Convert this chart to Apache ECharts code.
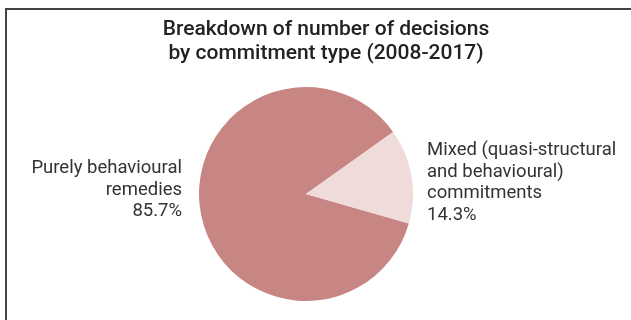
<!DOCTYPE html>
<html>
<head>
<meta charset="utf-8">
<script src="https://cdn.jsdelivr.net/npm/echarts@6/dist/echarts.min.js"></script>
<style>
  html, body { margin: 0; padding: 0; background: #fff; }
  #frame {
    position: absolute; left: 5px; top: 8px; width: 640px; height: 330px;
    border-top: 2px solid #444; border-left: 2px solid #444;
  }
  #chart { position: absolute; left: 0; top: 0; width: 631px; height: 320px; }
</style>
</head>
<body>
<div id="frame"></div>
<div id="chart"></div>
<script>
const titleLines = ['Breakdown of number of decisions', 'by commitment type (2008-2017)'];
const categories = ['Purely behavioural\nremedies', 'Mixed (quasi-structural\nand behavioural)\ncommitments'];
const shares = [85.7, 14.3];
const colors = ['#c78684', '#eedbda'];

const chart = echarts.init(document.getElementById('chart'));

const data = categories.map((name, i) => ({
  name: name,
  value: shares[i],
  itemStyle: { color: colors[i] },
  label: i === 0
    ? { align: 'right' }
    : { align: 'left' }
}));

chart.setOption({
  animation: false,
  title: {
    text: titleLines.join('\n'),
    left: 321,
    textAlign: 'center',
    top: 13,
    textStyle: {
      fontFamily: 'Roboto',
      fontSize: 21,
      fontWeight: 500,
      color: '#222',
      lineHeight: 24
    }
  },
  series: [{
    type: 'pie',
    center: [306, 194],
    radius: 107,
    startAngle: -16,
    clockwise: true,
    data: data,
    label: {
      show: true,
      position: 'outside',
      overflow: 'none',
      formatter: p => p.name + '\n' + p.value.toFixed(1) + '%',
      fontFamily: 'Roboto',
      fontSize: 18.5,
      lineHeight: 21.5,
      color: '#333'
    },
    labelLine: { show: false },
    labelLayout: function (params) {
      if (params.dataIndex === 0) {
        return { x: 182, y: 190, align: 'right', verticalAlign: 'middle' };
      }
      return { x: 427, y: 183, align: 'left', verticalAlign: 'middle' };
    },
    emphasis: { disabled: true }
  }]
});
</script>
</body>
</html>
